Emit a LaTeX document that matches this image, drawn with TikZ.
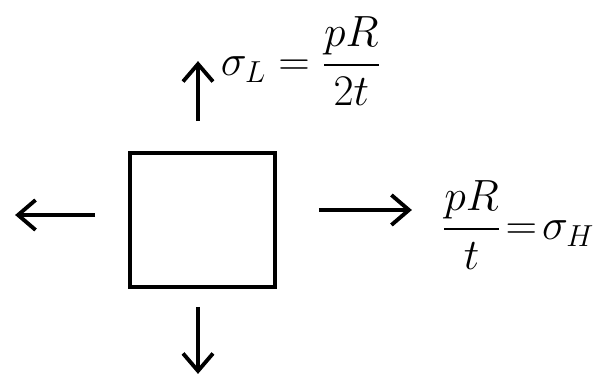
\documentclass[tikz,border=0pt]{standalone}
\usepackage{amsmath}
\usetikzlibrary{arrows.meta,positioning}

\begin{document}
\begin{tikzpicture}[
  x=0.02cm, y=-0.02cm,
  element/.style={draw, line width=2.2pt, minimum width=2.9cm,
                  minimum height=2.68cm, inner sep=0pt},
  stress/.style={-{Straight Barb[length=3.5mm,width=6mm]}, line width=2.2pt},
  formula/.style={font=\fontsize{24}{28}\selectfont, inner sep=0pt}
]
  \useasboundingbox (0,0) rectangle (606,381);
  \node[element] (elem) at (202.5,220) {};
  % ends of the four stress arrows
  \coordinate[above=0.6cm of elem.north, xshift=-0.09cm] (topS);
  \coordinate[above=1.2cm of topS] (topE);
  \coordinate[below=0.36cm of elem.south, xshift=-0.09cm] (botS);
  \coordinate[below=1.34cm of botS] (botE);
  \coordinate[left=0.66cm of elem.west, yshift=0.1cm] (leftS);
  \coordinate[left=1.6cm of leftS] (leftE);
  \coordinate[right=0.84cm of elem.east, yshift=0.2cm] (rightS);
  \coordinate[right=1.86cm of rightS] (rightE);
  \draw[stress] (topS) -- (topE);
  \draw[stress] (botS) -- (botE);
  \draw[stress] (leftS) -- (leftE);
  \draw[stress] (rightS) -- (rightE);
  \node[formula, right=0.45cm of topE] (sigL) {$\sigma_L = \dfrac{pR}{2t}$};
  \node[formula, right=0.6cm of rightE, yshift=-0.3cm] (sigH) {$\dfrac{pR}{t}\!=\!\sigma_H$};
\end{tikzpicture}
\end{document}
